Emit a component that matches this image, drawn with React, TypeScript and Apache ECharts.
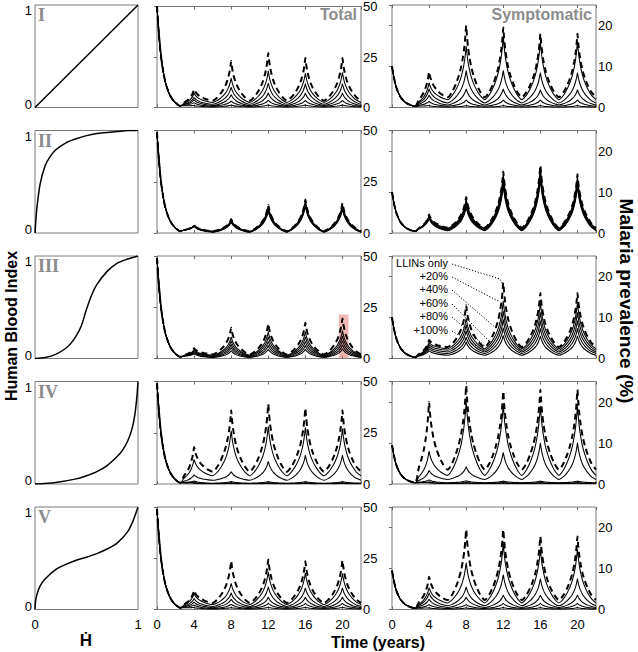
import React, { useEffect, useRef } from "react";
import * as echarts from "echarts";

// ---------- data ----------
const PEAK_YEARS = [4, 8, 12, 16, 20];
const TIME_TICKS = [0, 4, 8, 12, 16, 20];
const SERIES_NAMES = ["LLINs only", "+20%", "+40%", "+60%", "+80%", "+100%"];
const ROMAN = ["I", "II", "III", "IV", "V"];

// normalized shape of one seasonal cycle around its peak (offset in years -> fraction of peak above trough)
const CYCLE_OFFSETS = [-2, -1.5, -1.1, -0.8, -0.55, -0.35, -0.2, -0.08, 0, 0.08, 0.2, 0.35, 0.55, 0.8, 1.1, 1.5];
const CYCLE_SHAPE = [0, 0.08, 0.19, 0.3, 0.42, 0.56, 0.7, 0.86, 1, 0.86, 0.7, 0.56, 0.42, 0.3, 0.19, 0.08];
// initial decay of prevalence from the starting value
const INIT_TIMES = [0, 0.1, 0.2, 0.35, 0.5, 0.7, 0.9, 1.2, 1.5, 1.9, 2.5];
const INIT_SHAPE = [1, 0.86, 0.73, 0.57, 0.45, 0.33, 0.24, 0.15, 0.09, 0.04, 0];

const TOTAL_START = [50, 49, 49, 49, 49];
const SYMPT_START = [10, 10, 10, 9.5, 9.5];
const TOTAL_LOW = [0.8, 0.9, 0.8, 0.6, 0.8];
const SYMPT_LOW = [0.3, 0.4, 0.3, 0.3, 0.3];

// Row I
const TOT_I_PEAKS = [[9, 23, 27, 24.5, 24.5], [7, 14.5, 18, 17, 17.3], [5, 10, 12, 11.7, 11.7], [3.8, 6.3, 7.2, 7, 7], [2.4, 3.2, 3.6, 3.5, 3.5], [1, 1.2, 1.3, 1.3, 1.3]];
const TOT_I_TROUGHS = [3.4, 2.5, 1.6, 1, 0.6, 0.3];
const SYM_I_PEAKS = [[8.7, 20, 19.5, 18, 18], [6, 15, 17.3, 16, 16], [4.5, 9, 9, 8.5, 8.5], [3, 4.5, 4.5, 4.3, 4.3], [1.5, 1.8, 1.8, 1.8, 1.8], [0.5, 0.5, 0.5, 0.5, 0.5]];
const SYM_I_TROUGHS = [2.5, 1.9, 1.1, 0.6, 0.3, 0.1];
// Row II
const TOT_II_PEAKS = [[3.8, 6.8, 13.7, 16.3, 14.6], [3.7, 6.5, 13.1, 15.6, 14], [3.6, 6.2, 12.5, 15, 13.4], [3.5, 5.9, 11.9, 14.4, 12.8], [3.4, 5.6, 11.3, 13.8, 12.2], [3.3, 5.3, 10.7, 13.2, 11.6]];
const TOT_II_TROUGHS = [0.9, 0.8, 0.7, 0.6, 0.5, 0.4];
const SYM_II_PEAKS = [[4.5, 8.8, 15, 16.5, 14.3], [4.3, 8.3, 14.3, 15.8, 13.7], [4.1, 7.8, 13.6, 15.1, 13.1], [3.9, 7.3, 12.9, 14.4, 12.5], [3.7, 6.8, 12.2, 13.7, 11.9], [3.5, 6.3, 11.5, 13, 11.3]];
const SYM_II_TROUGHS = [1.3, 1.15, 1, 0.85, 0.7, 0.55];
// Row III
const TOT_III_PEAKS = [[5, 15, 17, 17.5, 19.5], [4.3, 10.5, 13, 13, 13.5], [3.8, 8.5, 10.5, 10.5, 11], [3.3, 6.8, 8.3, 8.3, 8.7], [2.8, 5.3, 6.3, 6.3, 6.6], [2.3, 3.8, 4.5, 4.5, 4.7]];
const TOT_III_TROUGHS = [2, 1.6, 1.3, 1, 0.7, 0.5];
const SYM_III_PEAKS = [[4.5, 13, 18.5, 16, 16], [3.9, 9.8, 14, 13.5, 13.5], [3.4, 8.2, 11.6, 11.2, 11.2], [2.9, 6.7, 9.5, 9.2, 9.2], [2.4, 5.2, 7.5, 7.3, 7.3], [1.9, 4, 5.6, 5.5, 5.5]];
const SYM_III_TROUGHS = [2.8, 2.4, 2, 1.6, 1.2, 0.8];
// Row IV
const TOT_IV_PEAKS = [[18, 36, 39, 37, 36], [12, 26, 28, 27.5, 27], [4.5, 6, 11, 14, 14], [1.5, 1.2, 1.2, 1.2, 1.2], [0.8, 0.6, 0.6, 0.6, 0.6], [0.4, 0.3, 0.3, 0.3, 0.3]];
const TOT_IV_TROUGHS = [6, 4, 1.8, 0.4, 0.2, 0.1];
const SYM_IV_PEAKS = [[20, 24, 22.6, 23, 23], [8, 20, 19.3, 19, 19], [3.3, 4.2, 7.7, 10, 10], [1, 0.8, 0.7, 0.7, 0.7], [0.5, 0.4, 0.4, 0.4, 0.4], [0.3, 0.2, 0.2, 0.2, 0.2]];
const SYM_IV_TROUGHS = [3.5, 2.1, 1.1, 0.3, 0.15, 0.1];
// Row V
const TOT_V_PEAKS = [[9.3, 23.7, 24.4, 23.5, 24], [7.8, 12.7, 18.3, 17.8, 17.5], [5.3, 8, 11, 10.5, 10.5], [3.6, 5, 6, 6, 6], [2.2, 2.6, 3, 3, 3], [1, 1, 1.1, 1.1, 1.1]];
const TOT_V_TROUGHS = [3.2, 2.4, 1.5, 0.9, 0.5, 0.25];
const SYM_V_PEAKS = [[8, 19.5, 19.5, 17.8, 17.8], [5.3, 11.4, 16, 14.7, 14.7], [4, 5.5, 8.5, 7.5, 7.5], [2.5, 3, 3.5, 3.5, 3.5], [1.2, 1.2, 1.5, 1.5, 1.5], [0.4, 0.4, 0.5, 0.5, 0.5]];
const SYM_V_TROUGHS = [2.3, 1.6, 0.9, 0.5, 0.25, 0.1];

// Human blood index curves (H, HBI)
const HBI_I = [[0, 0], [1, 1]];
const HBI_II = [[0, 0], [0.01, 0.15], [0.02, 0.26], [0.05, 0.48], [0.1, 0.66], [0.15, 0.75], [0.2, 0.81], [0.3, 0.88], [0.4, 0.92], [0.5, 0.95], [0.6, 0.97], [0.7, 0.98], [0.8, 0.99], [0.9, 1], [1, 1]];
const HBI_III = [[0, 0], [0.1, 0.01], [0.2, 0.04], [0.3, 0.1], [0.35, 0.15], [0.4, 0.22], [0.45, 0.32], [0.5, 0.48], [0.55, 0.62], [0.6, 0.72], [0.7, 0.85], [0.8, 0.93], [0.9, 0.97], [1, 1]];
const HBI_IV = [[0, 0], [0.2, 0.015], [0.4, 0.05], [0.5, 0.08], [0.6, 0.12], [0.7, 0.18], [0.8, 0.27], [0.85, 0.33], [0.9, 0.42], [0.94, 0.53], [0.97, 0.68], [0.99, 0.86], [1, 1]];
const HBI_V = [[0, 0], [0.005, 0.08], [0.02, 0.15], [0.05, 0.23], [0.1, 0.3], [0.2, 0.39], [0.3, 0.44], [0.4, 0.48], [0.5, 0.51], [0.6, 0.545], [0.7, 0.59], [0.8, 0.65], [0.9, 0.76], [0.95, 0.86], [1, 1]];

const HBI_ROWS = [HBI_I, HBI_II, HBI_III, HBI_IV, HBI_V];
const TOT_ROWS = [[TOT_I_PEAKS, TOT_I_TROUGHS], [TOT_II_PEAKS, TOT_II_TROUGHS], [TOT_III_PEAKS, TOT_III_TROUGHS], [TOT_IV_PEAKS, TOT_IV_TROUGHS], [TOT_V_PEAKS, TOT_V_TROUGHS]];
const SYM_ROWS = [[SYM_I_PEAKS, SYM_I_TROUGHS], [SYM_II_PEAKS, SYM_II_TROUGHS], [SYM_III_PEAKS, SYM_III_TROUGHS], [SYM_IV_PEAKS, SYM_IV_TROUGHS], [SYM_V_PEAKS, SYM_V_TROUGHS]];

// highlighted window (row III, total)
const HIGHLIGHT = { x0: 19.6, x1: 20.65, y0: 0, y1: 21.5 };

// ---------- layout ----------
const COL_LEFT = [35, 157, 392];
const COL_W = [103, 204, 204];
const ROW_TOP = [5, 130.5, 256, 381.5, 507];
const ROW_H = 102.5;
const FONT = '"Liberation Sans", Arial, sans-serif';

function buildCurve(start: number, low: number, peaks: number[], trough: number): number[][] {
  const pts: number[][] = [];
  INIT_TIMES.forEach((t, i) => pts.push([t, low + (start - low) * INIT_SHAPE[i]]));
  PEAK_YEARS.forEach((tp, k) => {
    CYCLE_OFFSETS.forEach((d, j) => {
      if (k === 0 && d <= -1.5) return;
      const base = d < 0 ? (k === 0 ? low : trough) : trough;
      pts.push([tp + d, base + (peaks[k] - base) * CYCLE_SHAPE[j]]);
    });
  });
  pts.push([22, trough]);
  return pts;
}

export default function App() {
  const ref = useRef<HTMLDivElement>(null);
  useEffect(() => {
    document.body.style.margin = "0";
    const chart = echarts.init(ref.current!, null, { renderer: "svg" });
    const grids: any[] = [];
    const xAxes: any[] = [];
    const yAxes: any[] = [];
    const series: any[] = [];
    const tickStyle = { show: true, inside: true, length: 3, lineStyle: { color: "#666", width: 1 } };
    const labelBase = { color: "#000", fontSize: 13, fontFamily: FONT };
    let xi = 0;
    for (let r = 0; r < 5; r++) {
      for (let c = 0; c < 3; c++) {
        const g = grids.length;
        grids.push({
          left: COL_LEFT[c], top: ROW_TOP[r], width: COL_W[c], height: ROW_H,
          show: true, borderColor: "#7a7a7a", borderWidth: 1, backgroundColor: "#fff", containLabel: false,
        });
        const bottom = r === 4;
        if (c === 0) {
          xAxes.push({
            gridIndex: g, type: "value", min: 0, max: 1, interval: 1,
            axisLine: { show: false }, axisTick: { show: false }, splitLine: { show: false },
            axisLabel: { ...labelBase, show: bottom, margin: 8 },
          });
          yAxes.push({
            gridIndex: g, type: "value", min: 0, max: 1, interval: 1,
            axisLine: { show: false }, axisTick: { show: false }, splitLine: { show: false },
            axisLabel: {
              ...labelBase, margin: 3,
              formatter: (v: number) => (v === 1 ? "{t|1}" : "{b|0}"),
              rich: { t: { ...labelBase, padding: [11, 0, 0, 0] }, b: { ...labelBase, padding: [0, 0, 7, 0] } },
            },
          });
          const xIdx = xi++;
          series.push({
            type: "line", xAxisIndex: xIdx, yAxisIndex: g, data: HBI_ROWS[r], showSymbol: false,
            smooth: 0.3, lineStyle: { color: "#000", width: 1.5 }, silent: true,
          });
        } else {
          const isTotal = c === 1;
          xAxes.push({
            gridIndex: g, type: "value", min: 0, max: 22, interval: 4,
            axisLine: { show: false }, axisTick: tickStyle, splitLine: { show: false },
            axisLabel: { ...labelBase, show: bottom, margin: 8, formatter: (v: number) => (TIME_TICKS.includes(v) ? String(v) : "") },
          });
          const xIdx = xi++;
          xAxes.push({
            gridIndex: g, type: "value", position: "top", min: 0, max: 22, interval: 4,
            axisLine: { show: false }, axisTick: tickStyle, splitLine: { show: false }, axisLabel: { show: false },
          });
          xi++;
          const ymax = isTotal ? 50 : 25;
          const yint = isTotal ? 25 : 10;
          yAxes.push({
            gridIndex: g, type: "value", position: "right", min: 0, max: ymax, interval: yint,
            axisLine: { show: false }, axisTick: tickStyle, splitLine: { show: false },
            axisLabel: { ...labelBase, margin: 2, formatter: (v: number) => (v % yint === 0 ? String(v) : "") },
          });
          const [peaks, troughs] = isTotal ? TOT_ROWS[r] : SYM_ROWS[r];
          const start = isTotal ? TOTAL_START[r] : SYMPT_START[r];
          const low = isTotal ? TOTAL_LOW[r] : SYMPT_LOW[r];
          for (let s = 5; s >= 0; s--) {
            const dashed = s === 0;
            const ser: any = {
              type: "line", name: SERIES_NAMES[s], xAxisIndex: xIdx, yAxisIndex: g,
              data: buildCurve(start, low, peaks[s], troughs[s]),
              showSymbol: false, smooth: 0.25, silent: true,
              lineStyle: dashed ? { color: "#000", width: 2, type: [6, 4] } : { color: "#000", width: 1.05 },
              z: dashed ? 3 : 2,
            };
            if (dashed && r === 2 && isTotal) {
              ser.markArea = {
                silent: true,
                itemStyle: { color: "rgba(236,110,110,0.5)" },
                data: [[{ xAxis: HIGHLIGHT.x0, yAxis: HIGHLIGHT.y0 }, { xAxis: HIGHLIGHT.x1, yAxis: HIGHLIGHT.y1 }]],
              };
            }
            series.push(ser);
          }
        }
      }
    }

    const graphic: any[] = [];
    ROMAN.forEach((t, r) => {
      graphic.push({
        type: "text", left: 38, top: ROW_TOP[r] + 1, silent: true,
        style: { text: t, font: 'bold 18px "Liberation Serif", "Times New Roman", serif', fill: "#8a8a8a" },
      });
    });
    graphic.push({
      type: "text", x: 357, y: 14, silent: true,
      style: { text: "Total", font: `bold 16px ${FONT}`, fill: "#8c8c8c", align: "right", verticalAlign: "middle" },
    });
    graphic.push({
      type: "text", x: 592, y: 14, silent: true,
      style: { text: "Symptomatic", font: `bold 16px ${FONT}`, fill: "#8c8c8c", align: "right", verticalAlign: "middle" },
    });
    graphic.push({
      type: "text", x: 11, y: 326, rotation: Math.PI / 2, silent: true,
      style: { text: "Human Blood Index", font: `bold 16px ${FONT}`, fill: "#000", align: "center", verticalAlign: "middle" },
    });
    graphic.push({
      type: "text", x: 626, y: 301, rotation: -Math.PI / 2, silent: true,
      style: { text: "Malaria prevalence (%)", font: `bold 19px ${FONT}`, fill: "#000", align: "center", verticalAlign: "middle" },
    });
    graphic.push({
      type: "text", x: 86, y: 640, silent: true,
      style: { text: "Ḣ", font: `bold 17px ${FONT}`, fill: "#000", align: "center", verticalAlign: "middle" },
    });
    graphic.push({
      type: "text", x: 378, y: 642, silent: true,
      style: { text: "Time (years)", font: `bold 16px ${FONT}`, fill: "#000", align: "center", verticalAlign: "middle" },
    });
    // legend-like annotations in row III symptomatic panel
    const annY = [263, 276, 289, 303, 316, 330];
    const annEnd = [[500, 279, 503, 285], [500, 302], [497, 329], [489, 341], [486, 347], [484, 351]];
    SERIES_NAMES.forEach((name, i) => {
      graphic.push({
        type: "text", x: 448, y: annY[i], silent: true,
        style: { text: name, font: `11px ${FONT}`, fill: "#000", align: "right", verticalAlign: "middle" },
      });
      const e = annEnd[i];
      const pts = [[452, annY[i] + 1], [e[0], e[1]]];
      if (e.length > 2) pts.push([e[2], e[3]]);
      graphic.push({
        type: "polyline", silent: true, shape: { points: pts },
        style: { stroke: "#000", lineWidth: 1, lineDash: [1.2, 1.8], fill: null },
      });
    });

    chart.setOption({
      animation: false,
      backgroundColor: "#fff",
      grid: grids,
      xAxis: xAxes,
      yAxis: yAxes,
      series,
      graphic,
    });
    return () => chart.dispose();
  }, []);
  return <div ref={ref} style={{ width: 638, height: 652 }} />;
}
